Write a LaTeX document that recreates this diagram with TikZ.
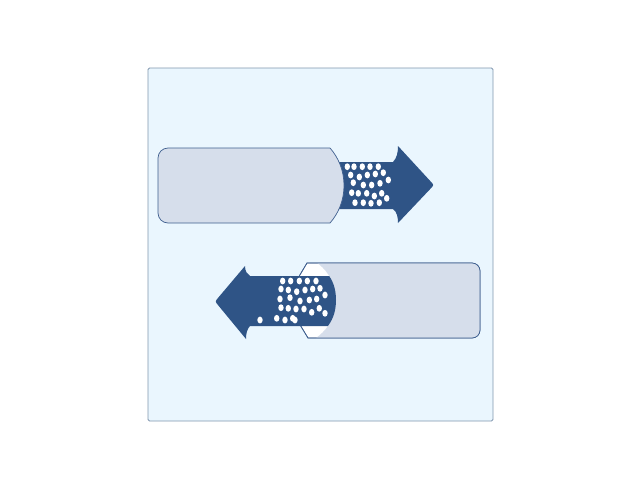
\documentclass[tikz,border=0pt]{standalone}
\begin{document}
\definecolor{bg}{HTML}{EAF6FE}
\definecolor{framecol}{HTML}{8096AE}
\definecolor{arrowblue}{HTML}{2F5486}
\definecolor{boxfill}{HTML}{D6DEEB}
\definecolor{boxline}{HTML}{3F5F8F}
\begin{tikzpicture}[x=1pt,y=-1pt,
  boxshape/.style={draw=boxline, line width=0.7pt},
  dotshape/.style={fill=white}]
\useasboundingbox (0,0) rectangle (640,480);
% frame
\draw[framecol, fill=bg, line width=0.8pt, rounded corners=1.5] (148,68) rectangle (493,421);

% ===== top arrow =====
\fill[arrowblue] (320,162) -- (393,162)
  .. controls (397,158) and (398,152) .. (398,146)
  -- (430.6,181.4) .. controls (434,185) .. (430.6,188.6)
  -- (398,223) .. controls (398,217) and (397,212) .. (393,209)
  -- (320,209) -- cycle;
\foreach \x/\y in {347.3/166.7,354/166.7,362.3/166.7,370/166.7,378.3/166.7,
  350.7/175,359.3/177,367.3/175,375.3/174,383.3/172.7,
  353.3/182.7,363.3/185,371.7/185,380/183.3,388.3/180,
  351.7/192.7,358.3/193.3,366.7/193.3,374.3/196,381.7/193.3,
  355/202.7,363.3/202.7,371/203.3,379.3/202.7,386.7/198.3}
  \fill[dotshape] (\x,\y) ellipse (2.7 and 3.4);
% top box
\draw[boxshape, fill=boxfill] (168,148) -- (330,148)
  .. controls (338,157) and (344,170) .. (344,185.5)
  .. controls (344,201) and (338,214) .. (330,223)
  -- (168,223) .. controls (162.5,223) and (158,218.5) .. (158,213)
  -- (158,158) .. controls (158,152.5) and (162.5,148) .. (168,148) -- cycle;

% ===== bottom box =====
\draw[boxshape, fill=white] (307,263) -- (472,263)
  .. controls (476.4,263) and (480,266.6) .. (480,271)
  -- (480,330) .. controls (480,334.4) and (476.4,338) .. (472,338)
  -- (308,338) -- (285,300) -- cycle;
\begin{scope}
  \clip (307,263) -- (472,263)
  .. controls (476.4,263) and (480,266.6) .. (480,271)
  -- (480,330) .. controls (480,334.4) and (476.4,338) .. (472,338)
  -- (308,338) -- (285,300) -- cycle;
  \fill[boxfill, even odd rule] (280,258) rectangle (484,344) (290,300) circle (46);
\end{scope}
\draw[boxshape] (307,263) -- (472,263)
  .. controls (476.4,263) and (480,266.6) .. (480,271)
  -- (480,330) .. controls (480,334.4) and (476.4,338) .. (472,338)
  -- (308,338) -- (285,300) -- cycle;

% ===== bottom arrow =====
\fill[arrowblue] (329.2,276)
  .. controls (334,283) and (336,291) .. (336,300)
  .. controls (336,309) and (334,318) .. (327.9,326)
  -- (250,326) .. controls (247,329) and (246,334) .. (246,339)
  -- (218.2,305.3) .. controls (215,301.5) .. (218.2,297.7)
  -- (245,266) .. controls (245,271) and (247,274) .. (250,276) -- cycle;
\foreach \x/\y in {282.7/281,290.7/281,299.3/281,307.3/281,316/281,
  281/289,288.3/290,296.7/291.7,305/290,312.7/289,320/288.3,
  280/299,290/297.7,300/301,309.3/300,316.7/299,325/295,
  281/307.7,288.3/308.3,296/309,304/309,311.7/312.3,319.3/308.3,325/313.3,
  260/320,276.7/318.3,285/320,292.7/318.3,295/320}
  \fill[dotshape] (\x,\y) ellipse (2.7 and 3.4);
\end{tikzpicture}
\end{document}
